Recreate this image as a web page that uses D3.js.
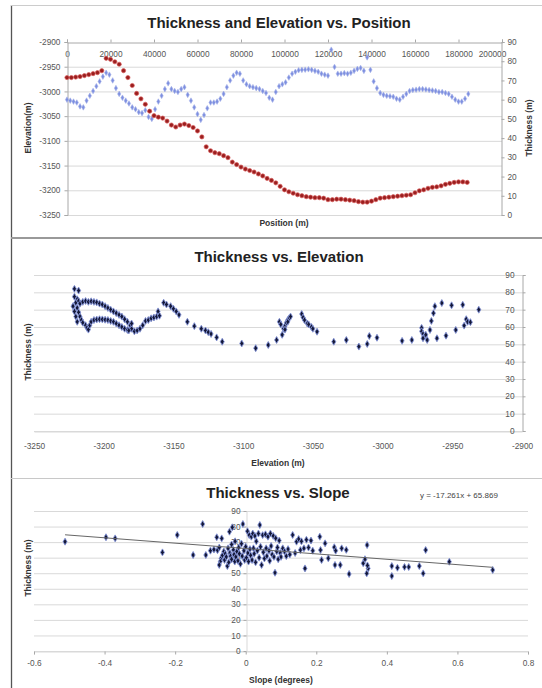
<!DOCTYPE html>
<html>
<head>
<meta charset="utf-8">
<script src="https://cdn.jsdelivr.net/npm/d3@7/dist/d3.min.js"></script>
<style>
  html, body { margin: 0; padding: 0; background: #fff; }
  svg { display: block; font-family: "Liberation Sans", Arial, sans-serif; }
</style>
</head>
<body>
<svg id="chart" width="542" height="688"></svg>
<script>
// ---------- Profile data: elevation along the survey line ----------
const elevPositions = [0,2000,4000,6000,8000,10000,12000,14000,16000,18000,20000,22000,24000,26000,28000,30000,32000,34000,36000,38000,40000,42000,44000,46000,48000,50000,52000,54000,56000,58000,60000,62000,64000,66000,68000,70000,72000,74000,76000,78000,80000,82000,84000,86000,88000,90000,92000,94000,96000,98000,100000,102000,104000,106000,108000,110000,112000,114000,116000,118000,120000,122000,124000,126000,128000,130000,132000,134000,136000,138000,140000,142000,144000,146000,148000,150000,152000,154000,156000,158000,160000,162000,164000,166000,168000,170000,172000,174000,176000,178000,180000,182000,184000];
const elevValues = [-2972,-2972,-2971,-2970,-2968,-2966,-2964,-2962,-2958,-2933,-2935,-2940,-2945,-2958,-2972,-2988,-3004,-3015,-3026,-3040,-3049,-3052,-3054,-3060,-3068,-3072,-3068,-3066,-3069,-3073,-3080,-3092,-3112,-3120,-3124,-3126,-3130,-3134,-3143,-3148,-3153,-3157,-3160,-3163,-3167,-3171,-3176,-3180,-3185,-3192,-3199,-3203,-3206,-3209,-3211,-3213,-3214,-3215,-3215,-3216,-3219,-3219,-3218,-3218,-3219,-3220,-3221,-3223,-3224,-3224,-3222,-3219,-3216,-3215,-3214,-3213,-3212,-3211,-3210,-3209,-3205,-3201,-3199,-3196,-3194,-3193,-3191,-3188,-3186,-3184,-3183,-3183,-3184];

// ---------- Profile data: thickness along the survey line ----------
const thickPositions = [0,1500,3000,4500,6000,7500,9000,10500,12000,13500,15000,16500,18000,19500,21000,22500,24000,25500,27000,28500,30000,31500,33000,34500,36000,37500,39000,40500,42000,43500,45000,46500,48000,49500,51000,52500,54000,55500,57000,58500,60000,61500,63000,64500,66000,67500,69000,70500,72000,73500,75000,76500,78000,79500,81000,82500,84000,85500,87000,88500,90000,91500,93000,94500,96000,97500,99000,100500,102000,103500,105000,106500,108000,109500,111000,112500,114000,115500,117000,118500,120000,121500,123000,124500,126000,127500,129000,130500,132000,133500,135000,136500,138000,139500,141000,142500,144000,145500,147000,148500,150000,151500,153000,154500,156000,157500,159000,160500,162000,163500,165000,166500,168000,169500,171000,172500,174000,175500,177000,178500,180000,181500,183000,184500];
const thickValues = [60,59.5,59,58.5,56.5,56,59.5,62,64.5,67,69.5,72,74,73,70,66,63,61,59.5,58,56,55,53.5,53,54.5,51,50,55,59,62,65.5,68.5,65.5,64.5,64,65.5,66.5,62.5,59.5,56,52.5,49.5,52,55.5,58.5,58.5,59,60.5,63,66.5,70,72.5,74,73.5,70,68,67,66.5,66,65.5,64.5,63.5,61,60,64,67,68,69,71.5,73.5,74.5,75.3,75.5,75.6,75.8,75.5,75,74.5,73.5,73,72.5,86,77,73.5,73.5,73.8,73.5,74,75,76,76.5,75,82,75.5,69.5,66,63.5,62.5,62,61.8,61.5,60.5,60,61.5,63,64.5,65,65.2,65.5,65.5,65.3,65,64.8,64.5,64,64,63.5,63,61.5,60,59,59,60.5,63];

// ---------- Thickness against elevation ----------
const teElevation = [-3221,-3218,-3221,-3219,-3220,-3218,-3217,-3215,-3213,-3211,-3209,-3207,-3205,-3203,-3201,-3199,-3197,-3195,-3193,-3191,-3189,-3187,-3185,-3183,-3181,-3180,-3219,-3218,-3217,-3216,-3215,-3213,-3212,-3211,-3210,-3209,-3207,-3205,-3203,-3201,-3199,-3197,-3195,-3193,-3191,-3189,-3187,-3185,-3183,-3182,-3222,-3221,-3220,-3219,-3180,-3178,-3176,-3174,-3172,-3170,-3168,-3166,-3164,-3162,-3161,-3160,-3157,-3155,-3152,-3150,-3148,-3146,-3140,-3135,-3130,-3127,-3125,-3123,-3119,-3115,-3101,-3091,-3082,-3076,-3074,-3072,-3073,-3071,-3070,-3069,-3068,-3067,-3066,-3068,-3070,-3058,-3057,-3056,-3054,-3053,-3051,-3050,-3047,-3035,-3026,-3017,-3011,-3009.5,-3004,-2986,-2979,-2972,-2972,-2971,-2970,-2971,-2969,-2968,-2966,-2965,-2963.5,-2962.5,-2957.5,-2961,-2954.5,-2950.5,-2947.5,-2942.5,-2941.5,-2940,-2939,-2937,-2931];
const teThickness = [82,81,77.5,76,74,75,73.5,74.5,75,74.5,74.8,74.5,74.2,73.5,73,72,71,70,69,68,67,66,64.5,63,61,59,71,68.5,66,64,62.5,61,59.5,58.5,61,63,64,64.3,64.5,64.4,64.2,64,63.5,63,62,61,60,59,58.3,58,72,69,66,63,62,57.5,58,59,61,63.5,64,65,65.5,66,69,66.5,74,73,72,70.5,69,67,63,60.5,59,58,57,56,54,51.5,50.5,47.8,49.6,52.5,63,55.5,61.5,59,60.5,62.5,64,65,66,63,58.5,67.5,65.5,64,62,61.5,60,59,57.3,51.5,52.5,48.7,50.2,54.8,53.8,52,52.5,59.5,57.5,56,54.5,53.5,55.5,52.5,58.3,63.5,68,72,73.8,53.5,55,72.5,58.3,72.8,60.8,64.5,63,62.8,70];

// ---------- Thickness against slope ----------
const tsSlope = [-0.512,-0.396,-0.370,-0.236,-0.194,-0.149,-0.122,-0.113,-0.100,-0.090,-0.082,-0.080,-0.075,-0.068,-0.070,-0.072,-0.075,-0.066,-0.062,-0.060,-0.058,-0.055,-0.052,-0.050,-0.048,-0.046,-0.045,-0.043,-0.040,-0.040,-0.038,-0.035,-0.033,-0.031,-0.030,-0.028,-0.025,-0.022,-0.020,-0.018,-0.015,-0.012,-0.010,-0.008,-0.005,-0.003,0.000,0.002,0.005,0.006,0.008,0.010,0.012,0.014,0.016,0.018,0.020,0.022,0.024,0.026,0.028,0.030,0.033,0.036,0.038,0.040,0.042,0.045,0.048,0.050,0.053,0.056,0.058,0.060,0.063,0.066,0.068,0.070,0.072,0.075,0.078,0.080,0.083,0.085,0.088,0.090,0.092,0.095,0.098,0.100,0.105,0.110,0.115,0.120,0.125,0.133,0.140,0.144,0.150,0.155,0.158,0.165,0.168,0.172,0.178,0.185,0.190,0.210,0.212,0.215,0.225,0.234,0.251,0.253,0.255,0.268,0.272,0.285,0.293,0.333,0.338,0.344,0.347,0.345,0.343,0.414,0.414,0.430,0.450,0.462,0.492,0.503,0.510,0.577,0.700];
const tsThickness = [70.3,73.1,72.4,63.4,74.6,61.7,81.6,61.7,64.5,65.2,73.1,64.8,66.5,72.4,59.5,57.5,55.3,61.5,64,58.5,62.5,60.5,54.6,66,57,76.7,63,61,68.5,59,79.5,65,62,57.5,70.5,60.5,64,58,66.5,62.5,56,69,61,81.6,64.5,58.5,67,60,77,63,57.5,74.5,65.5,61.5,73.5,58.5,75.5,66,62.5,74,57,70.5,64.5,75.5,60,81,67,55.3,74.5,63.5,59.5,75,66,61,73.5,64.5,58,75.5,67.5,62,74,60.5,50.3,72.5,64,66.5,59,71,63,60.5,66,64,61,65.5,62,74.6,63,70.3,72,64.9,70.5,66,53.1,71.5,66.5,71,64.5,73.5,64.9,58.5,69.2,59.6,66.7,55.3,64.5,55.3,66,65,49.5,56.4,59,68.1,53.1,55,49.9,54.6,48.2,53.5,54,54,54.6,49.9,64.9,57.4,52.1];
const trendSlope = -17.261;
const trendIntercept = 65.869;

// ---------- Tick values ----------
const positionTicks = [0,20000,40000,60000,80000,100000,120000,140000,160000,180000,200000];
const elevationTicks = [-2900,-2950,-3000,-3050,-3100,-3150,-3200,-3250];
const thicknessTicks = [0,10,20,30,40,50,60,70,80,90];
const slopeTicks = [-0.6,-0.4,-0.2,0,0.2,0.4,0.6,0.8];

const svg = d3.select("#chart");
const GRID = "#d9d9d9";
const AXIS = "#a8a8a8";
const TICKTXT = "#555";
const TICKFONT = "8.3px";
const plain = d => String(d);   // plain ASCII hyphen, no thousands separator

// ---------- Frame ----------
svg.append("line").attr("x1", 11.5).attr("x2", 11.5).attr("y1", 5).attr("y2", 688)
  .attr("stroke", "#555").attr("stroke-width", 1.3);
svg.append("line").attr("x1", 11).attr("x2", 542).attr("y1", 5.5).attr("y2", 5.5)
  .attr("stroke", "#ccc").attr("stroke-width", 1);
svg.append("line").attr("x1", 11).attr("x2", 542).attr("y1", 238).attr("y2", 238)
  .attr("stroke", "#999").attr("stroke-width", 1.8);
svg.append("line").attr("x1", 11).attr("x2", 542).attr("y1", 478.5).attr("y2", 478.5)
  .attr("stroke", "#c8c8c8").attr("stroke-width", 1.2);

function title(text, x, y) {
  svg.append("text").attr("x", x).attr("y", y).attr("text-anchor", "middle")
    .attr("font-size", "15px").attr("font-weight", "bold").attr("fill", "#222").text(text);
}
function axisTitle(text, x, y, rotate) {
  const t = svg.append("text").attr("text-anchor", "middle")
    .attr("font-size", "8.5px").attr("font-weight", "bold").attr("fill", "#333").text(text);
  if (rotate) t.attr("transform", `translate(${x},${y}) rotate(-90)`);
  else t.attr("x", x).attr("y", y);
}
function styleAxis(g) {
  g.select(".domain").attr("stroke", AXIS);
  g.selectAll(".tick line").attr("stroke", AXIS);
  g.selectAll(".tick text").attr("fill", TICKTXT).attr("font-size", TICKFONT)
    .attr("font-family", "Liberation Sans, Arial, sans-serif");
}

// =============== Panel 1: Thickness and Elevation vs. Position ===============
{
  const x = d3.scaleLinear().domain([0, 200000]).range([67, 502]);
  const yL = d3.scaleLinear().domain([-3250, -2900]).range([215, 42]);
  const yR = d3.scaleLinear().domain([0, 90]).range([215, 42]);

  title("Thickness and Elevation vs. Position", 279, 27.5);

  // horizontal gridlines
  svg.append("g").selectAll("line").data(elevationTicks.slice(1)).join("line")
    .attr("x1", 67).attr("x2", 502).attr("y1", d => yL(d) + 0.5).attr("y2", d => yL(d) + 0.5)
    .attr("stroke", GRID);

  // top axis (labels sit just below the top edge)
  const gx = svg.append("g").attr("transform", "translate(0,42.5)")
    .call(d3.axisTop(x).tickValues(positionTicks).tickSize(3).tickFormat(plain));
  styleAxis(gx);
  gx.selectAll(".tick text").attr("y", 14).attr("dy", 0);
  // last label is pulled slightly inside the plot edge
  gx.selectAll(".tick text").filter(d => d === 200000).attr("x", -10);

  const gl = svg.append("g").attr("transform", "translate(67.5,0)")
    .call(d3.axisLeft(yL).tickValues(elevationTicks).tickSize(3).tickPadding(4).tickFormat(plain));
  styleAxis(gl);

  const gr = svg.append("g").attr("transform", "translate(501.5,0)")
    .call(d3.axisRight(yR).tickValues(thicknessTicks).tickSize(3).tickPadding(3).tickFormat(plain));
  styleAxis(gr);

  // thickness markers (diamonds)
  const diamond = d3.symbol().type(d3.symbolDiamond).size(9);
  svg.append("g").selectAll("path").data(d3.zip(thickPositions, thickValues)).join("path")
    .attr("d", diamond)
    .attr("transform", d => `translate(${x(d[0])},${yR(d[1])})`)
    .attr("fill", "#7d8fe0").attr("stroke", "#a6b2ea").attr("stroke-width", 0.6);

  // elevation markers
  svg.append("g").selectAll("circle").data(d3.zip(elevPositions, elevValues)).join("circle")
    .attr("cx", d => x(d[0])).attr("cy", d => yL(d[1])).attr("r", 2.1)
    .attr("fill", "#9a1f1f").attr("stroke", "#d85a5a").attr("stroke-width", 0.7);

  axisTitle("Position (m)", 284, 226, false);
  axisTitle("Elevation(m)", 31, 128, true);
  axisTitle("Thickness (m)", 532, 128, true);
}

// shared marker for the scatter panels
function scatterMarks(data, x, y) {
  const sym = d3.symbol().type(d3.symbolDiamond).size(14);
  svg.append("g").selectAll("path").data(data).join("path")
    .attr("d", sym)
    .attr("transform", d => `translate(${x(d[0])},${y(d[1])})`)
    .attr("fill", "#141838").attr("stroke", "#8494d8").attr("stroke-width", 0.9);
}

// =============== Panel 2: Thickness vs. Elevation ===============
{
  const x = d3.scaleLinear().domain([-3250, -2900]).range([34, 522]);
  const y = d3.scaleLinear().domain([0, 90]).range([431, 275]);

  title("Thickness vs. Elevation", 279, 262);

  svg.append("g").selectAll("line").data(thicknessTicks).join("line")
    .attr("x1", 34).attr("x2", 522).attr("y1", d => y(d) + 0.5).attr("y2", d => y(d) + 0.5)
    .attr("stroke", GRID);

  const gx = svg.append("g").attr("transform", "translate(0,431.5)")
    .call(d3.axisBottom(x).tickValues(elevationTicks.slice().reverse()).tickSize(0).tickPadding(12).tickFormat(plain));
  styleAxis(gx);
  gx.select(".domain").attr("stroke", GRID);

  // value axis crosses at the right end; labels sit on its inner side
  const gy = svg.append("g").attr("transform", "translate(522.5,0)")
    .call(d3.axisRight(y).tickValues(thicknessTicks).tickSize(3).tickFormat(plain));
  styleAxis(gy);
  gy.selectAll(".tick text").attr("text-anchor", "end").attr("x", -8);

  scatterMarks(d3.zip(teElevation, teThickness), x, y);

  axisTitle("Elevation (m)", 278, 466, false);
  axisTitle("Thickness (m)", 31, 352, true);
}

// =============== Panel 3: Thickness vs. Slope ===============
{
  const x = d3.scaleLinear().domain([-0.6, 0.8]).range([34, 528]);
  const y = d3.scaleLinear().domain([0, 90]).range([651, 511]);

  title("Thickness vs. Slope", 278, 498);
  svg.append("text").attr("x", 420).attr("y", 498).attr("font-size", "8px").attr("fill", "#444")
    .text(`y = ${trendSlope}x + ${trendIntercept}`);

  svg.append("g").selectAll("line").data(thicknessTicks).join("line")
    .attr("x1", 34).attr("x2", 528).attr("y1", d => y(d) + 0.5).attr("y2", d => y(d) + 0.5)
    .attr("stroke", GRID);

  const gx = svg.append("g").attr("transform", "translate(0,651.5)")
    .call(d3.axisBottom(x).tickValues(slopeTicks).tickSize(3).tickPadding(6).tickFormat(plain));
  styleAxis(gx);
  gx.select(".domain").attr("stroke", GRID);

  const gy = svg.append("g").attr("transform", `translate(${Math.round(x(0)) + 0.5},0)`)
    .call(d3.axisLeft(y).tickValues(thicknessTicks).tickSize(3).tickPadding(3).tickFormat(plain));
  styleAxis(gy);
  gy.select(".domain").attr("stroke", GRID);

  scatterMarks(d3.zip(tsSlope, tsThickness), x, y);

  // linear trendline across the slope range
  const sExt = d3.extent(tsSlope);
  svg.append("line")
    .attr("x1", x(sExt[0])).attr("y1", y(trendSlope * sExt[0] + trendIntercept))
    .attr("x2", x(sExt[1])).attr("y2", y(trendSlope * sExt[1] + trendIntercept))
    .attr("stroke", "#666").attr("stroke-width", 1);

  axisTitle("Slope (degrees)", 281, 683, false);
  axisTitle("Thickness (m)", 31, 568, true);
}
</script>
</body>
</html>
